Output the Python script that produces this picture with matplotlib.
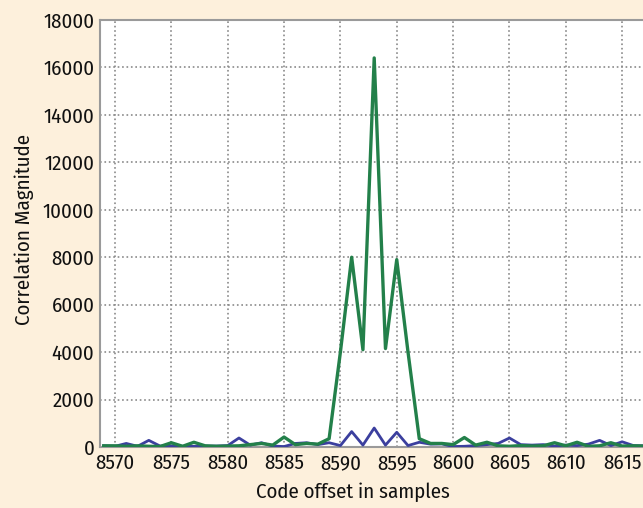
import matplotlib
matplotlib.use("Agg")
import matplotlib.pyplot as plt

offsets = list(range(8569, 8618))
green = [50, 50, 30, 50, 30, 20, 180, 30, 200, 50,
         30, 40, 50, 100, 150, 80, 420, 100, 150, 120,
         350, 4000, 8000, 4100, 16400, 4150, 7900, 4000, 350, 150,
         150, 100, 400, 80, 200, 50, 30, 60, 40, 50,
         180, 50, 200, 30, 50, 180, 40, 50, 40]
blue = [50, 30, 150, 30, 280, 40, 50, 30, 30, 40,
        40, 60, 380, 80, 180, 40, 20, 150, 180, 100,
        180, 60, 650, 80, 800, 80, 620, 60, 200, 120,
        130, 20, 30, 60, 100, 150, 380, 100, 80, 100,
        40, 80, 60, 120, 280, 60, 220, 60, 50]
xticks = [8570, 8575, 8580, 8585, 8590, 8595, 8600, 8605, 8610, 8615]
yticks = [0, 2000, 4000, 6000, 8000, 10000, 12000, 14000, 16000, 18000]

plt.rcParams['font.family'] = ['Fira Sans Condensed', 'DejaVu Sans']

bg = '#fdf0dc'
fs = 15
fig = plt.figure(figsize=(6.43, 5.08), dpi=100, facecolor=bg)
ax = fig.add_axes([100/643, 1 - 447/508, 543/643, (447 - 20)/508])
ax.set_facecolor('white')

ax.plot(offsets, blue, color='#3b3f9e', lw=2.0, zorder=3)
ax.plot(offsets, green, color='#23804a', lw=2.4, zorder=4)

ax.set_xlim(8568.67, 8616.85)
ax.set_ylim(0, 18000)
ax.set_xticks(xticks)
ax.set_yticks(yticks)
ax.grid(True, linestyle=':', color='#8a8a8a', linewidth=1.2)
ax.set_axisbelow(True)
ax.tick_params(axis='both', length=0, labelsize=fs, colors='#111111')
ax.tick_params(axis='x', pad=5)
ax.tick_params(axis='y', pad=4)
for s in ['left', 'bottom', 'top']:
    ax.spines[s].set_color('#9a9a9a')
    ax.spines[s].set_linewidth(1.5)
ax.spines['right'].set_visible(False)

ax.set_xlabel('Code offset in samples', fontsize=fs, color='#111111')
ax.xaxis.set_label_coords(0.466, -0.082)
ax.set_ylabel('Correlation Magnitude', fontsize=fs, color='#111111', va='center')
ax.yaxis.set_label_coords(-0.140, 0.51)

fig.savefig('out.png', dpi=100, facecolor=bg)
